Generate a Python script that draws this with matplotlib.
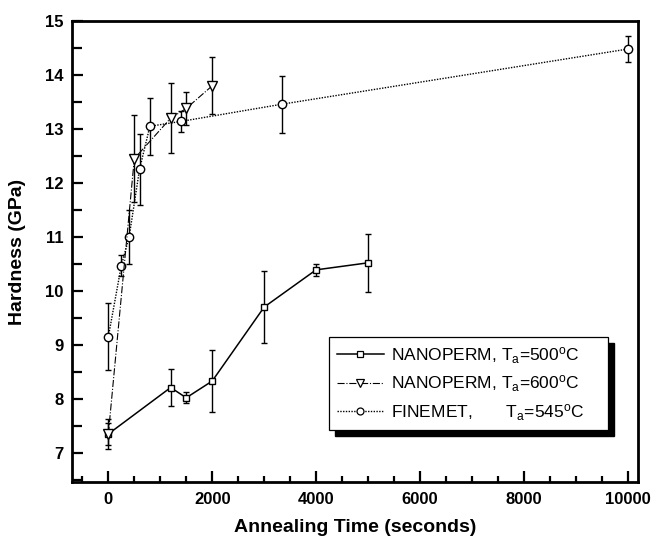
import matplotlib
matplotlib.use("Agg")
import matplotlib.pyplot as plt
from matplotlib.patches import Rectangle
from matplotlib.lines import Line2D
from matplotlib.ticker import MultipleLocator
from matplotlib.transforms import IdentityTransform

plt.rcParams['font.family'] = ['Liberation Sans', 'DejaVu Sans']
plt.rcParams['mathtext.fontset'] = 'custom'
plt.rcParams['mathtext.rm'] = 'Liberation Sans'
plt.rcParams['mathtext.it'] = 'Liberation Sans'

# Data
np500_t = [0, 1200, 1500, 2000, 3000, 4000, 5000]
np500_h = [7.35, 8.21, 8.02, 8.33, 9.70, 10.39, 10.52]
np500_err = [0.20, 0.34, 0.10, 0.57, 0.66, 0.11, 0.54]

np600_t = [0, 500, 1200, 1500, 2000]
np600_h = [7.35, 12.45, 13.20, 13.38, 13.80]
np600_err = [0.27, 0.80, 0.65, 0.30, 0.53]

fin_t = [0, 250, 400, 600, 800, 1400, 3350, 10000]
fin_h = [9.15, 10.47, 11.00, 12.25, 13.05, 13.14, 13.46, 14.48]
fin_err = [0.62, 0.20, 0.50, 0.65, 0.53, 0.20, 0.53, 0.24]

labels = ['NANOPERM, T$_\\mathregular{a}$=500$^\\mathregular{o}$C',
          'NANOPERM, T$_\\mathregular{a}$=600$^\\mathregular{o}$C',
          'FINEMET,       T$_\\mathregular{a}$=545$^\\mathregular{o}$C']

styles = [dict(marker='s', ms=5, ls='-', lw=1.1),
          dict(marker='v', ms=6.5, ls='-.', lw=0.8),
          dict(marker='o', ms=6, ls=(0, (1, 1)), lw=1.0)]

fig = plt.figure(figsize=(6.52, 5.36), dpi=100)
ax = fig.add_axes([72/652, 1-482/536, (638-72)/652, (482-21)/536])

common = dict(color='black', mfc='white', mec='black', mew=1.0,
              ecolor='black', elinewidth=1.0, capsize=2.5, capthick=1.0)

ax.errorbar(np500_t, np500_h, yerr=np500_err, zorder=3, **styles[0], **common)
ax.errorbar(np600_t, np600_h, yerr=np600_err, zorder=4, **styles[1], **common)
ax.errorbar(fin_t, fin_h, yerr=fin_err, zorder=3, **styles[2], **common)

ax.set_xlim(-700, 10200)
ax.set_ylim(6.46, 15)

ax.xaxis.set_major_locator(MultipleLocator(2000))
ax.xaxis.set_minor_locator(MultipleLocator(500))
ax.yaxis.set_major_locator(MultipleLocator(1))
ax.yaxis.set_minor_locator(MultipleLocator(0.5))

ax.tick_params(axis='both', which='both', direction='in', top=False, right=False, width=1.6)
ax.tick_params(axis='x', which='major', length=8, pad=7)
ax.tick_params(axis='x', which='minor', length=4)
ax.tick_params(axis='y', which='major', length=8, pad=6)
ax.tick_params(axis='y', which='minor', length=7)

for lab in ax.get_xticklabels() + ax.get_yticklabels():
    lab.set_fontweight('bold')
    lab.set_fontsize(12)

for sp in ax.spines.values():
    sp.set_linewidth(2.0)

ax.set_xlabel('Annealing Time (seconds)', fontsize=14, fontweight='bold', labelpad=9)
ax.set_ylabel('Hardness (GPa)', fontsize=14, fontweight='bold', labelpad=14)

legend_sizes = [4.5, 6, 5]
handles = []
for st, msz in zip(styles, legend_sizes):
    s = dict(st)
    s['ms'] = msz
    handles.append(Line2D([], [], color='black', mfc='white', mec='black', mew=0.9, **s))

leg = ax.legend(handles=handles, labels=labels,
                loc='upper left', bbox_to_anchor=(0.454, 0.113, 0.493, 0.2015),
                mode='expand', borderaxespad=0, fontsize=12.5, frameon=True,
                fancybox=False, framealpha=1, edgecolor='black',
                handlelength=2.7, handletextpad=0.4, labelspacing=0.45,
                borderpad=0.45)
leg.get_frame().set_linewidth(0.9)
leg.set_zorder(6)

fig.canvas.draw()
bb = leg.get_frame().get_window_extent()
shadow = Rectangle((bb.x0 + 6, bb.y0 - 6), bb.width, bb.height, transform=IdentityTransform(),
                   facecolor='black', edgecolor='black', zorder=5.5, clip_on=False)
ax.add_artist(shadow)

fig.savefig('out.png', dpi=100)
